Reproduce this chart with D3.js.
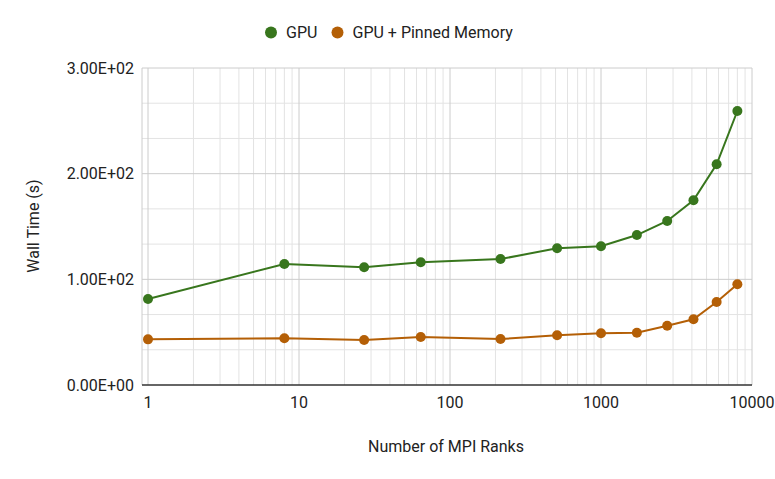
<!DOCTYPE html>
<html lang="en">
<head>
    <meta charset="UTF-8">
    <title>Wall Time vs MPI Ranks</title>
    <style>
        body {
            margin: 0;
            background: #fff;
            font-family: Roboto, 'Noto Sans', sans-serif;
        }
        svg text {
            fill: #222;
            font-size: 16px;
        }
    </style>
</head>
<body>
    <svg id="chart" width="775" height="479"></svg>

    <script src="https://d3js.org/d3.v7.min.js"></script>
    <script>
        // data
        const ranks = [1, 8, 27, 64, 216, 512, 1000, 1728, 2744, 4096, 5832, 8000];
        const gpuTimes = [81.4, 114.5, 111.4, 116.1, 119.2, 129.4, 131.3, 141.9, 155.2, 174.8, 208.9, 259.3];
        const pinnedTimes = [43.2, 44.2, 42.6, 45.4, 43.5, 47.0, 48.9, 49.5, 56.1, 62.2, 78.5, 95.3];
        const seriesNames = ['GPU', 'GPU + Pinned Memory'];
        const seriesColors = ['#38761d', '#b45f06'];
        const xTicks = [1, 10, 100, 1000, 10000];
        const yTicks = [0, 100, 200, 300];

        const svg = d3.select('#chart');
        const plotLeft = 142, plotRight = 752, plotTop = 68, plotBottom = 385;

        const x = d3.scaleLog().domain([1, 10000]).range([148, plotRight]);
        const y = d3.scaleLinear().domain([0, 300]).range([plotBottom, plotTop]);

        // minor vertical grid (2..9 each decade)
        const minorX = [];
        for (let d = 1; d < 10000; d *= 10) {
            for (let k = 2; k <= 9; k++) minorX.push(d * k);
        }
        svg.append('g').selectAll('line')
            .data(minorX)
            .enter().append('line')
            .attr('x1', d => x(d)).attr('x2', d => x(d))
            .attr('y1', plotTop).attr('y2', plotBottom)
            .attr('stroke', '#e3e3e3');

        // minor horizontal grid
        const minorY = d3.range(0, 300, 100 / 3).filter((d, i) => i % 3 !== 0);
        svg.append('g').selectAll('line')
            .data(minorY)
            .enter().append('line')
            .attr('x1', plotLeft).attr('x2', plotRight)
            .attr('y1', d => y(d)).attr('y2', d => y(d))
            .attr('stroke', '#e3e3e3');

        // major grid
        svg.append('g').selectAll('line')
            .data(xTicks)
            .enter().append('line')
            .attr('x1', d => x(d)).attr('x2', d => x(d))
            .attr('y1', plotTop).attr('y2', plotBottom)
            .attr('stroke', '#cccccc');
        svg.append('g').selectAll('line')
            .data(yTicks.slice(1))
            .enter().append('line')
            .attr('x1', plotLeft).attr('x2', plotRight)
            .attr('y1', d => y(d)).attr('y2', d => y(d))
            .attr('stroke', '#cccccc');
        svg.append('line')
            .attr('x1', plotLeft).attr('x2', plotLeft)
            .attr('y1', plotTop).attr('y2', plotBottom)
            .attr('stroke', '#cccccc');

        // baseline
        svg.append('line')
            .attr('x1', plotLeft).attr('x2', plotRight)
            .attr('y1', plotBottom).attr('y2', plotBottom)
            .attr('stroke', '#333')
            .attr('stroke-width', 1.5);

        // y tick labels
        svg.append('g').selectAll('text')
            .data(yTicks)
            .enter().append('text')
            .attr('x', 134)
            .attr('y', d => y(d))
            .attr('dy', '0.35em')
            .attr('text-anchor', 'end')
            .text(d => d.toExponential(2).replace('e', 'E').replace(/E([+-])(\d)$/, 'E$10$2'));

        // x tick labels
        svg.append('g').selectAll('text')
            .data(xTicks)
            .enter().append('text')
            .attr('x', d => x(d))
            .attr('y', 408)
            .attr('text-anchor', 'middle')
            .text(d => d);

        // axis titles
        svg.append('text')
            .attr('x', 446).attr('y', 451.5)
            .attr('text-anchor', 'middle')
            .text('Number of MPI Ranks');
        svg.append('text')
            .attr('transform', 'translate(39,226) rotate(-90)')
            .attr('text-anchor', 'middle')
            .text('Wall Time (s)');

        // series
        const series = [gpuTimes, pinnedTimes];
        const line = d3.line()
            .x((d, i) => x(ranks[i]))
            .y(d => y(d));

        series.forEach((vals, s) => {
            svg.append('path')
                .datum(vals)
                .attr('fill', 'none')
                .attr('stroke', seriesColors[s])
                .attr('stroke-width', 2)
                .attr('d', line);
            svg.append('g').selectAll('circle')
                .data(vals)
                .enter().append('circle')
                .attr('cx', (d, i) => x(ranks[i]))
                .attr('cy', d => y(d))
                .attr('r', 5)
                .attr('fill', seriesColors[s]);
        });

        // legend
        const legendX = [271, 337.5];
        const legend = svg.append('g').selectAll('g')
            .data(seriesNames)
            .enter().append('g')
            .attr('transform', (d, i) => `translate(${legendX[i]},32.5)`);
        legend.append('circle')
            .attr('r', 6)
            .attr('fill', (d, i) => seriesColors[i]);
        legend.append('text')
            .attr('x', 15)
            .attr('dy', '0.35em')
            .text(d => d);
    </script>
</body>
</html>
